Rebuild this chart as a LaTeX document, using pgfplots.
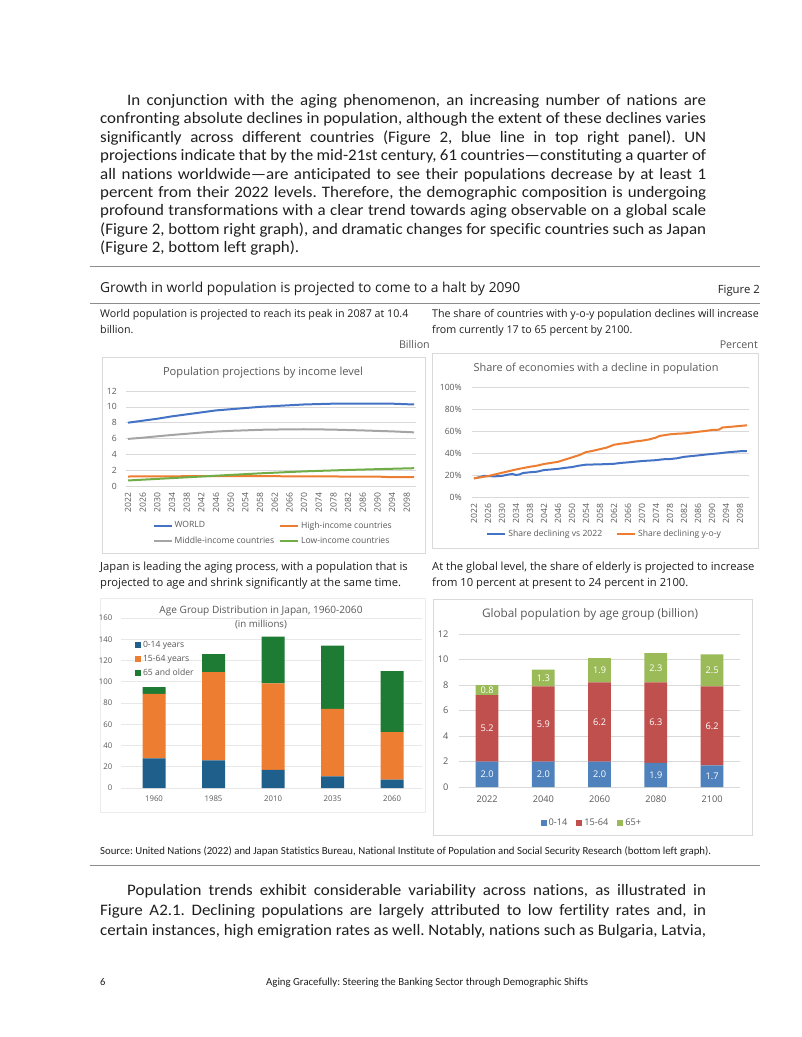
\documentclass[border=0pt]{standalone}
\usepackage{pgfplots}
\pgfplotsset{compat=1.18}
\usepackage{fontspec}
\setmainfont{Carlito}[Ligatures=NoCommon]
\newfontfamily\seg{Open Sans}
\definecolor{txt}{HTML}{1F1F1F}
\definecolor{cg}{HTML}{595959}
\definecolor{gridc}{HTML}{D9D9D9}
\definecolor{boxc}{HTML}{D9D9D9}
\definecolor{rulec}{HTML}{8C8C8C}
\definecolor{cblue}{HTML}{4472C4}
\definecolor{corange}{HTML}{ED7D31}
\definecolor{cgray}{HTML}{A5A5A5}
\definecolor{cgreen}{HTML}{70AD47}
\definecolor{jblue}{HTML}{1F5F8B}
\definecolor{jorange}{HTML}{ED7D31}
\definecolor{jgreen}{HTML}{1E7B34}
\definecolor{gblue}{HTML}{4F81BD}
\definecolor{gred}{HTML}{C0504D}
\definecolor{ggreen}{HTML}{9BBB59}
\pgfplotsset{/pgf/number format/assume math mode=true}
\newcommand{\bodyfont}{\fontsize{16}{18}\selectfont}
\newcommand{\subfont}{\seg\fontsize{10.7}{12}\selectfont}
\newcommand{\subfontb}{\seg\fontsize{11.2}{12}\selectfont}
\newlength\Lw
\newcommand{\JL}[1]{\scalebox{\hf}[1]{\makebox[\Lw][s]{#1}}}
\newcommand{\JI}[1]{\scalebox{\hf}[1]{\makebox[0.955446\Lw][s]{#1}}}
\newcommand{\JN}[1]{\scalebox{\hf}[1]{#1}}
\pgfplotsset{
  chartbase/.style={scale only axis, anchor=south west,
    axis line style={draw=none}, major tick length=0pt,
    ymajorgrids, grid style={gridc, line width=0.6pt},
    tick label style={text=cg},
    legend cell align=left,
    x tick label style={/pgf/number format/1000 sep={}}},
  lineleg/.style={legend image code/.code={\draw[##1, line width=2pt] (0pt,0pt) -- (18pt,0pt);}},
  barleg/.style={legend image code/.code={\fill[##1, draw=none] (0pt,-3pt) rectangle (6pt,3pt);}}
}
\begin{document}%
\frenchspacing%
\settowidth\Lw{\bodyfont\frenchspacing confronting absolute declines in population, although the extent of these declines varies}%
\pgfmathsetmacro\hf{606/\Lw}%
\begin{tikzpicture}
\path[fill=white] (0pt,0pt) rectangle (802pt,-1037pt);
% ---------- paragraph 1
\begin{scope}[every node/.style={anchor=base west, inner sep=0pt, text=txt, font=\bodyfont\frenchspacing}]
\node at (127pt,-105.5pt) {\JI{In conjunction with the aging phenomenon, an increasing number of nations are}};
\node at (100pt,-123.9pt) {\JL{confronting absolute declines in population, although the extent of these declines varies}};
\node at (100pt,-142.3pt) {\JL{significantly across different countries (Figure 2, blue line in top right panel). UN}};
\node at (100pt,-160.7pt) {\JL{projections indicate that by the mid-21st century, 61 countries—constituting a quarter of}};
\node at (100pt,-179.1pt) {\JL{all nations worldwide—are anticipated to see their populations decrease by at least 1}};
\node at (100pt,-197.5pt) {\JL{percent from their 2022 levels. Therefore, the demographic composition is undergoing}};
\node at (100pt,-215.9pt) {\JL{profound transformations with a clear trend towards aging observable on a global scale}};
\node at (100pt,-234.3pt) {\JL{(Figure 2, bottom right graph), and dramatic changes for specific countries such as Japan}};
\node at (100pt,-252.7pt) {\JN{(Figure 2, bottom left graph).}};
% paragraph 2
\node at (127pt,-895.5pt) {\JI{Population trends exhibit considerable variability across nations, as illustrated in}};
\node at (100pt,-915.5pt) {\JL{Figure A2.1. Declining populations are largely attributed to low fertility rates and, in}};
\node at (100pt,-935.5pt) {\JL{certain instances, high emigration rates as well. Notably, nations such as Bulgaria, Latvia,}};
\end{scope}
% ---------- rules
\draw[rulec, line width=0.8pt] (90pt,-266pt) -- (760pt,-266pt);
\draw[rulec, line width=0.8pt] (90pt,-303pt) -- (760pt,-303pt);
\draw[rulec, line width=0.8pt] (90pt,-865pt) -- (760pt,-865pt);
% ---------- heading
\node[anchor=base west, inner sep=0pt, text=txt] at (100pt,-292.5pt) {\resizebox{420pt}{!}{\seg Growth in world population is projected to come to a halt by 2090}};
\node[anchor=base east, inner sep=0pt, text=txt] at (760pt,-293pt) {\resizebox{42pt}{!}{\seg Figure 2}};
% subtitles
\begin{scope}[every node/.style={anchor=base west, inner sep=0pt, text=txt, font=\subfont}]
\node at (100pt,-317.5pt) {World population is projected to reach its peak in 2087 at 10.4};
\node at (100pt,-333.5pt) {billion.};
\node at (432pt,-317.5pt) {The share of countries with y-o-y population declines will increase};
\node at (432pt,-333.5pt) {from currently 17 to 65 percent by 2100.};
\node[font=\subfontb] at (100pt,-570.5pt) {Japan is leading the aging process, with a population that is};
\node[font=\subfontb] at (100pt,-586.5pt) {projected to age and shrink significantly at the same time.};
\node[font=\subfontb] at (432pt,-570.5pt) {At the global level, the share of elderly is projected to increase};
\node[font=\subfontb] at (432pt,-586.5pt) {from 10 percent at present to 24 percent in 2100.};
\end{scope}
\node[anchor=base east, inner sep=0pt, text=cg, font=\subfont] at (430pt,-348.5pt) {Billion};
\node[anchor=base east, inner sep=0pt, text=cg, font=\subfont] at (758pt,-348.5pt) {Percent};
% source and footer
\node[anchor=base west, inner sep=0pt, text=txt] at (100pt,-854.5pt) {\resizebox{611pt}{!}{Source: United Nations (2022) and Japan Statistics Bureau, National Institute of Population and Social Security Research (bottom left graph).}};
\node[anchor=base west, inner sep=0pt, text=txt, font=\fontsize{10.5}{12}\selectfont] at (100pt,-985pt) {6};
\node[anchor=base west, inner sep=0pt, text=txt] at (266pt,-985pt) {\resizebox{322pt}{!}{Aging Gracefully: Steering the Banking Sector through Demographic Shifts}};
% ---------- chart boxes
\draw[boxc, line width=0.7pt] (102pt,-357pt) rectangle (425pt,-553pt);
\draw[boxc, line width=0.7pt] (432pt,-353pt) rectangle (758pt,-548pt);
\draw[gridc!50, line width=0.7pt] (100pt,-598pt) rectangle (425pt,-812pt);
\draw[boxc, line width=0.7pt] (433pt,-599pt) rectangle (752pt,-835pt);
% chart titles
\node[text=cg, inner sep=0pt] at (263pt,-373pt) {\resizebox{200pt}{!}{\seg Population projections by income level}};
\node[text=cg, inner sep=0pt] at (596pt,-369pt) {\resizebox{245pt}{!}{\seg Share of economies with a decline in population}};
\node[text=cg, inner sep=0pt, anchor=base] at (261pt,-613.5pt) {\resizebox{203pt}{!}{\seg Age Group Distribution in Japan, 1960-2060}};
\node[text=cg, inner sep=0pt, anchor=base] at (261pt,-627.5pt) {\resizebox{52pt}{!}{\seg (in millions)}};
\node[text=cg, inner sep=0pt] at (590pt,-614pt) {\resizebox{216pt}{!}{\seg Global population by age group (billion)}};

% ---------- chart 1
\begin{axis}[chartbase, lineleg,
  at={(126.2pt,-486pt)}, width=289.8pt, height=95pt,
  xmin=2021.5, xmax=2100.5, ymin=0, ymax=12,
  xtick={2022,2026,...,2098}, ytick={0,2,...,12},
  tick label style={font=\seg\fontsize{8.6}{10}\selectfont},
  x tick label style={rotate=90, anchor=east},
  xticklabel shift=3pt, yticklabel shift=6pt,
  legend columns=2,
  legend style={at={(axis description cs:0.08,-0.33)}, anchor=north west, draw=none, fill=none,
    font=\seg\fontsize{8.6}{10}\selectfont, text=cg, row sep=3pt,
    /tikz/every even column/.append style={column sep=3pt}},
]
\addplot[cblue, line width=2pt] coordinates {(2022,8.0)(2026,8.25)(2030,8.5)(2034,8.8)(2038,9.05)(2042,9.3)(2046,9.55)(2050,9.7)(2054,9.85)(2058,10.0)(2062,10.1)(2066,10.2)(2070,10.3)(2074,10.35)(2078,10.4)(2082,10.4)(2087,10.42)(2090,10.41)(2094,10.4)(2098,10.33)(2100,10.3)};
\addlegendentry{WORLD}
\addplot[corange, line width=2pt] coordinates {(2022,1.2)(2030,1.22)(2040,1.24)(2050,1.25)(2060,1.24)(2070,1.22)(2080,1.2)(2090,1.19)(2093,1.13)(2100,1.12)};
\addlegendentry{High-income countries}
\addplot[cgray, line width=2pt] coordinates {(2022,5.95)(2026,6.1)(2030,6.28)(2034,6.45)(2038,6.6)(2042,6.75)(2046,6.88)(2050,6.97)(2054,7.03)(2058,7.1)(2062,7.13)(2066,7.16)(2070,7.17)(2074,7.15)(2078,7.12)(2082,7.07)(2086,7.02)(2090,6.96)(2094,6.9)(2098,6.82)(2100,6.78)};
\addlegendentry{Middle-income countries}
\addplot[cgreen, line width=2pt] coordinates {(2022,0.7)(2030,0.9)(2040,1.15)(2050,1.4)(2058,1.6)(2070,1.85)(2080,2.0)(2090,2.13)(2100,2.25)};
\addlegendentry{Low-income countries}
\end{axis}

% ---------- chart 2
\begin{axis}[chartbase, lineleg,
  at={(472.2pt,-497pt)}, width=276.5pt, height=110pt,
  xmin=2021.5, xmax=2100.5, ymin=0, ymax=100,
  xtick={2022,2026,...,2098}, ytick={0,20,...,100},
  yticklabel={\pgfmathprintnumber{\tick}\%},
  tick label style={font=\seg\fontsize{8.6}{10}\selectfont},
  x tick label style={rotate=90, anchor=east},
  xticklabel shift=3pt, yticklabel shift=7pt,
  legend columns=2,
  legend style={at={(axis description cs:0.04,-0.336)}, anchor=west, draw=none, fill=none,
    font=\seg\fontsize{8.6}{10}\selectfont, text=cg,
    /tikz/every even column/.append style={column sep=12pt}},
]
\addplot[cblue, line width=2pt] coordinates {(2022,17)(2023,17.5)(2024,18.5)(2025,19.2)(2026,19)(2028,18.8)(2030,19.2)(2032,20.5)(2033,21)(2034,20)(2035,20.5)(2036,21.8)(2038,22.5)(2040,23)(2042,24.5)(2044,25)(2046,25.6)(2048,26.5)(2050,27.2)(2052,28.5)(2054,29.4)(2058,29.7)(2062,30.2)(2064,31)(2066,31.5)(2070,32.7)(2074,33.5)(2076,34.3)(2078,34.5)(2080,35.2)(2082,36.5)(2086,37.8)(2090,39.2)(2092,39.7)(2094,40.5)(2098,41.6)(2100,41.8)};
\addlegendentry{Share declining vs 2022}
\addplot[corange, line width=2pt] coordinates {(2022,17)(2023,17.5)(2024,18)(2026,19)(2028,20.5)(2030,22)(2032,23.5)(2034,25)(2036,26.3)(2038,27.5)(2040,28.5)(2042,30)(2044,31)(2046,32)(2048,34)(2050,36)(2052,38)(2054,40.8)(2056,42)(2058,43.5)(2060,45)(2062,47.5)(2064,48.5)(2066,49.3)(2068,50.5)(2070,51.2)(2072,52.3)(2074,54)(2075,55.5)(2078,57)(2080,57.5)(2082,57.8)(2084,58.5)(2086,59.3)(2088,60)(2090,60.9)(2092,61.2)(2093,63.2)(2096,64)(2098,64.6)(2100,65.2)};
\addlegendentry{Share declining y-o-y}
\end{axis}

% ---------- chart 3
\begin{axis}[chartbase,
  at={(121.3pt,-788pt)}, width=300.5pt, height=170pt,
  ybar stacked, bar width=23pt, barleg,
  xmin=-0.55, xmax=4.5, ymin=0, ymax=160,
  xtick={0,...,4}, xticklabels={1960,1985,2010,2035,2060}, ytick={0,20,...,160},
  tick label style={font=\seg\fontsize{7.8}{9}\selectfont},
  xticklabel shift=4pt, yticklabel shift=5.5pt,
  grid style={gridc!60},
  legend style={at={(axis description cs:0.035,0.89)}, anchor=north west, draw=none, fill=none,
    font=\seg\fontsize{8.6}{10}\selectfont, text=cg, row sep=2.5pt},
]
\addplot[fill=jblue, draw=none] coordinates {(0,28)(1,26)(2,17)(3,11)(4,8)};
\addlegendentry{0-14 years}
\addplot[fill=jorange, draw=none] coordinates {(0,60.5)(1,83)(2,81.5)(3,63.5)(4,44.5)};
\addlegendentry{15-64 years}
\addplot[fill=jgreen, draw=none] coordinates {(0,6.5)(1,17)(2,44)(3,59.5)(4,57.5)};
\addlegendentry{65 and older}
\end{axis}

% ---------- chart 4
\begin{axis}[chartbase,
  at={(458.9pt,-787pt)}, width=281.25pt, height=153pt,
  ybar stacked, bar width=22.7pt, barleg,
  xmin=-0.5, xmax=4.5, ymin=0, ymax=12,
  xtick={0,...,4}, xticklabels={2022,2040,2060,2080,2100}, ytick={0,2,...,12},
  tick label style={font=\seg\fontsize{9.2}{11}\selectfont},
  xticklabel shift=5pt, yticklabel shift=7pt,
  legend columns=3,
  legend style={at={(axis description cs:0.473,-0.235)}, anchor=center, draw=none, fill=none,
    font=\seg\fontsize{9.2}{10.5}\selectfont, text=cg,
    /tikz/every even column/.append style={column sep=7pt}},
]
\addplot[fill=gblue, draw=none] coordinates {(0,2.0)(1,2.0)(2,2.0)(3,1.9)(4,1.7)};
\addlegendentry{0-14}
\addplot[fill=gred, draw=none] coordinates {(0,5.2)(1,5.9)(2,6.2)(3,6.3)(4,6.2)};
\addlegendentry{15-64}
\addplot[fill=ggreen, draw=none] coordinates {(0,0.8)(1,1.3)(2,1.9)(3,2.3)(4,2.5)};
\addlegendentry{65+}
\end{axis}
% labels for chart 4
\begin{axis}[scale only axis, anchor=south west, hide axis,
  at={(458.9pt,-787pt)}, width=281.25pt, height=153pt,
  xmin=-0.5, xmax=4.5, ymin=0, ymax=12]
\addplot[draw=none, mark=none, nodes near coords, point meta=explicit symbolic,
  every node near coord/.style={anchor=center, text=white, font=\seg\fontsize{9.2}{10}\selectfont, inner sep=0pt}]
  coordinates {(0,1.0)[2.0] (0,4.6)[5.2] (0,7.6)[0.8]
               (1,1.0)[2.0] (1,4.95)[5.9] (1,8.55)[1.3]
               (2,1.0)[2.0] (2,5.1)[6.2] (2,9.15)[1.9]
               (3,0.95)[1.9] (3,5.05)[6.3] (3,9.35)[2.3]
               (4,0.85)[1.7] (4,4.8)[6.2] (4,9.15)[2.5]};
\end{axis}
\end{tikzpicture}%
\end{document}
